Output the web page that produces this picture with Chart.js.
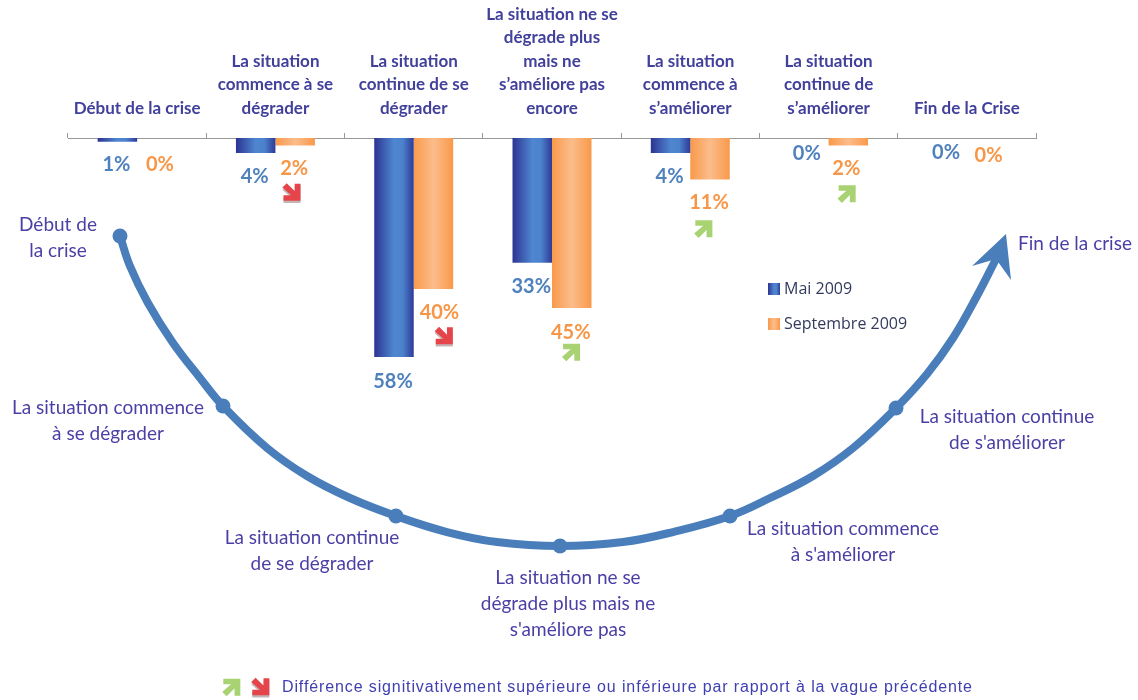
<!DOCTYPE html>
<html><head><meta charset="utf-8">
<style>html,body{margin:0;padding:0;background:#fff}canvas{display:block;position:absolute;left:0;top:0}</style>
<script src="https://cdn.jsdelivr.net/npm/chart.js@4"></script>
</head><body><canvas id="c" width="1138" height="700"></canvas><canvas id="d" width="1138" height="700"></canvas>
<script>
const categories = [
  ["Début de la crise"],
  ["La situation","commence à se","dégrader"],
  ["La situation","continue de se","dégrader"],
  ["La situation ne se","dégrade plus","mais ne","s’améliore pas","encore"],
  ["La situation","commence à","s’améliorer"],
  ["La situation","continue de","s’améliorer"],
  ["Fin de la Crise"]
];
const mai2009 = [1,4,58,33,4,0,0];
const sept2009 = [0,2,40,45,11,2,0];
const signif = [0,-1,-1,1,1,1,0];
const seriesNames = ["Mai 2009","Septembre 2009"];
const curveStage = [5.37,6.40,8.26,10.85,13.64,16.01,20.56,24.69,29.13,33.88,39.15,44.32,50.83,57.33,62.50,68.39,72.52,76.96,81.10,85.54,88.74,91.43,93.90,95.87];
const curveDepth = [17.44,22.78,29.36,36.48,42.70,47.69,55.16,60.14,64.06,67.26,70.11,71.89,72.60,71.89,70.11,67.26,64.06,60.14,55.16,48.04,41.99,35.59,28.11,21.53];
const curveNodes = [1,0,0,0,0,1,0,0,0,1,0,0,1,0,0,1,0,0,0,1,0,0,0,0];
const headStage = [96.90,97.42,95.87,93.39];
const headDepth = [17.08,25.27,21.53,22.78];
const curveLabels = [
  ["Début de","la crise"],
  ["La situation commence","à se dégrader"],
  ["La situation continue","de se dégrader"],
  ["La situation ne se","dégrade plus mais ne","s'améliore pas"],
  ["La situation commence","à s'améliorer"],
  ["La situation continue","de s'améliorer"],
  ["Fin de la crise"]
];
const footnote = "Différence signitivativement supérieure ou inférieure par rapport à la vague précédente";

const TEXT = "#4a3fa5";
const curvePos = [[58,225],[108,408],[312,538],[568,578],[843,529],[1007,417],[1075,244]];
const blueDx=[-1,-1,-1,-1,-1,-2,-1], blueDy=[23,23,24,24,23,16,15];
const orangeDx=[3,-1,6,-1,-1,-2,2], orangeDy=[27,23,23,25,23,23,18];
const arrowDx=[0,-4,10,-1,-7,-2,0], arrowDy=[0,47,47,44,49,48,0];
const CAT_PCT = 0.571;

const blueStops=[[0,"#2c3492"],[0.5,"#4f86d0"],[0.72,"#4c82cc"],[1,"#2e3a98"]];
const orangeStops=[[0,"#f9994a"],[0.5,"#fbbd8b"],[1,"#f9994a"]];

function barGrad(ctx,stops,side){
  const sc = ctx.chart.scales.x;
  if(ctx.dataIndex===undefined || !sc) return stops[0][1];
  const center = sc.getPixelForValue(ctx.dataIndex);
  const w = sc.width/categories.length*CAT_PCT/2;
  if(!isFinite(center) || !isFinite(w)) return stops[0][1];
  const x0 = side<0 ? center-w : center;
  const g = ctx.chart.ctx.createLinearGradient(x0,0,x0+w,0);
  stops.forEach(s=>g.addColorStop(s[0],s[1]));
  return g;
}

function arrowIcon(c,x,y,dir){
  const col = dir>0 ? "#a9d373" : "#e5444a";
  c.save(); c.translate(x,y);
  c.scale(1.1,dir>0?-1.1:1.1);
  const draw=(fill)=>{
    c.beginPath();
    c.moveTo(-8,-4.5);c.lineTo(-4,-8.5);c.lineTo(3.2,-1.3);c.lineTo(3.2,-8);c.lineTo(8.5,-8);
    c.lineTo(8.5,7.5);c.lineTo(-7,7.5);c.lineTo(-7,2.5);c.lineTo(0,2.5);c.closePath();
    c.fillStyle=fill;c.fill();
  };
  if(dir<0){c.save();c.translate(0,2);draw("rgba(120,90,90,.45)");c.restore();}
  draw(col);
  c.restore();
}

const overlay = {
  id:"overlay",
  afterDatasetsDraw(chart){
    const c=chart.ctx;
    c.save();
    c.textAlign="center";c.textBaseline="middle";
    c.font="bold 20px Lato";
    [[0,mai2009,"#4f81bd",blueDx,blueDy],[1,sept2009,"#f79646",orangeDx,orangeDy]].forEach(([d,vals,col,dx,dy])=>{
      const meta=chart.getDatasetMeta(d);
      vals.forEach((v,i)=>{
        const el=meta.data[i];
        c.fillStyle=col;
        c.fillText(v+"%",el.x+dx[i],el.y+dy[i]);
        if(d===1 && signif[i]) arrowIcon(c,el.x+arrowDx[i],el.y+arrowDy[i],signif[i]);
      });
    });
    c.font="19px Lato";c.fillStyle=TEXT;
    curveLabels.forEach((ls,i)=>ls.forEach((t,j)=>c.fillText(t,curvePos[i][0],curvePos[i][1]+j*25.7)));
    c.textAlign="left";c.font="16px 'Open Sans'";
    const ly=[289,324];
    [blueStops,orangeStops].forEach((st,i)=>{
      const g=c.createLinearGradient(768,0,780,0);st.forEach(s=>g.addColorStop(s[0],s[1]));
      c.fillStyle=g;c.fillRect(768,ly[i]-6,12,12);
      c.fillStyle="#333a5c";c.fillText(seriesNames[i],784,ly[i]);
    });
    arrowIcon(c,231,687,1);arrowIcon(c,260,687,-1);
    c.font="16px 'Liberation Sans'";c.fillStyle="#4040b0";
    c.letterSpacing="0.88px";
    c.fillText(footnote,282,688);
    c.letterSpacing="0px";
    c.restore();
  }
};

const arrowHead = {
  id:"arrowHead",
  afterDatasetsDraw(chart){
    const c=chart.ctx, sx=chart.scales.x, sy=chart.scales.y;
    c.save();c.fillStyle="#4a7ebb";c.beginPath();
    headStage.forEach((x,i)=>{
      const px=sx.getPixelForValue(x), py=sy.getPixelForValue(headDepth[i]);
      if(i===0)c.moveTo(px,py);else c.lineTo(px,py);
    });
    c.closePath();c.fill();c.restore();
  }
};

new Chart(document.getElementById("c"),{
  type:"bar",
  data:{
    labels:categories,
    datasets:[
      {label:seriesNames[0],data:mai2009,
       backgroundColor:(ctx)=>barGrad(ctx,blueStops,-1),categoryPercentage:CAT_PCT,barPercentage:1},
      {label:seriesNames[1],data:sept2009,
       backgroundColor:(ctx)=>barGrad(ctx,orangeStops,1),categoryPercentage:CAT_PCT,barPercentage:1}
    ]
  },
  options:{
    responsive:false,animation:false,devicePixelRatio:1,
    layout:{padding:{left:68,right:102,top:0,bottom:0}},
    plugins:{legend:{display:false},tooltip:{enabled:false},title:{display:false}},
    scales:{
      x:{type:"category",position:"top",offset:true,
         afterFit:(s)=>{s.height=138;},
         grid:{drawOnChartArea:false,tickLength:5,tickColor:"#999",color:"#999"},
         border:{color:"#999",width:1},
         ticks:{maxRotation:0,minRotation:0,autoSkip:false,padding:13,color:"#41409b",
                font:{family:"Lato",weight:"bold",size:17,lineHeight:1.38}}},
      y:{type:"linear",display:false,reverse:true,min:0,max:148.8}
    }
  },
  plugins:[overlay]
});

new Chart(document.getElementById("d"),{
  type:"scatter",
  data:{datasets:[
    {label:"Courbe",data:curveStage.map((x,i)=>({x:x,y:curveDepth[i]})),showLine:true,
     borderColor:"#4a7ebb",backgroundColor:"#4a7ebb",borderWidth:8,tension:0.4,fill:false,clip:false,
     pointRadius:(ctx)=>curveNodes[ctx.dataIndex]?7.5:0,pointBorderWidth:0,pointHoverRadius:0,
     borderCapStyle:"butt"}
  ]},
  options:{
    responsive:false,animation:false,devicePixelRatio:1,
    layout:{autoPadding:false,padding:{left:68,right:102,top:138,bottom:0}},
    plugins:{legend:{display:false},tooltip:{enabled:false},title:{display:false}},
    scales:{
      x:{type:"linear",display:false,min:0,max:100},
      y:{type:"linear",display:false,reverse:true,min:0,max:100}
    }
  },
  plugins:[arrowHead]
});
</script></body></html>
